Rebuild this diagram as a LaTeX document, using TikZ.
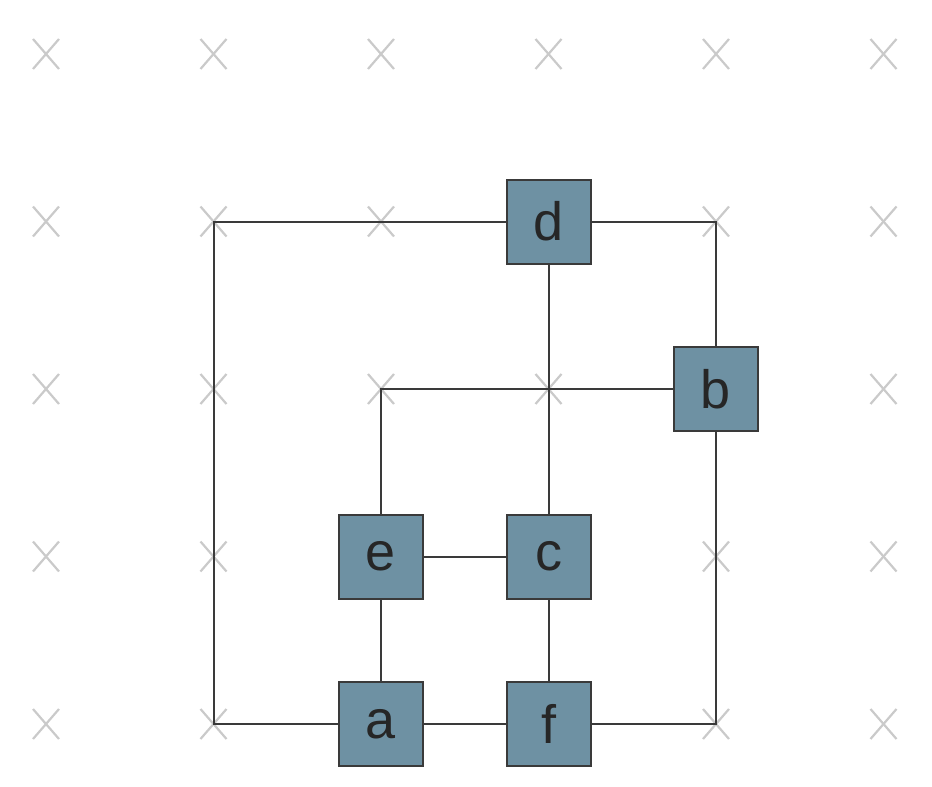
\documentclass[tikz,border=0pt]{standalone}
\usepackage{fontspec}
\setmainfont{Liberation Sans}
\usetikzlibrary{calc}
\pgfdeclarelayer{marks}
\pgfdeclarelayer{edges}
\pgfsetlayers{marks,edges,main}
\definecolor{boxfill}{HTML}{6E91A3}
\definecolor{edgecol}{HTML}{3A3A3A}
\definecolor{markcol}{HTML}{CACACA}
\begin{document}
\begin{tikzpicture}[x=1bp,y=-1bp,
  vbox/.style={draw=edgecol,fill=boxfill,line width=2bp,minimum size=84bp,inner sep=0pt,
    font=\fontsize{54bp}{60bp}\selectfont,text=black!85},
  link/.style={draw=edgecol,line width=2bp},
  xmark/.style={draw=markcol,line width=2.2bp}]
\useasboundingbox (0,0) rectangle (932,787);
% grid coordinates
\foreach \i in {0,...,5}{
  \foreach \j in {0,...,4}{
    \coordinate (g\i\j) at ({46+167.5*\i},{54+167.5*\j});
  }
}
\begin{pgfonlayer}{marks}
\foreach \i in {0,...,5}{
  \foreach \j in {0,...,4}{
    \draw[xmark] ($(g\i\j)+(-13,-15)$) -- ($(g\i\j)+(13,15)$);
    \draw[xmark] ($(g\i\j)+(-13,15)$) -- ($(g\i\j)+(13,-15)$);
  }
}
\end{pgfonlayer}
% nodes
\node[vbox] (d) at (g31) {d};
\node[vbox] (b) at (g42) {b};
\node[vbox] (e) at (g23) {e};
\node[vbox] (c) at (g33) {c};
\node[vbox] (a) at (g24) {a};
\node[vbox] (f) at (g34) {f};
\begin{pgfonlayer}{edges}
\draw[link] (d.center) -- (g11) -- (g14) -- (a.center);
\draw[link] (d.center) -| (b.center);
\draw[link] (d.center) -- (c.center);
\draw[link] (b.center) -| (e.center);
\draw[link] (e.center) -- (c.center);
\draw[link] (e.center) -- (a.center);
\draw[link] (c.center) -- (f.center);
\draw[link] (a.center) -- (f.center);
\draw[link] (f.center) -| (b.center);
\end{pgfonlayer}
\end{tikzpicture}
\end{document}
